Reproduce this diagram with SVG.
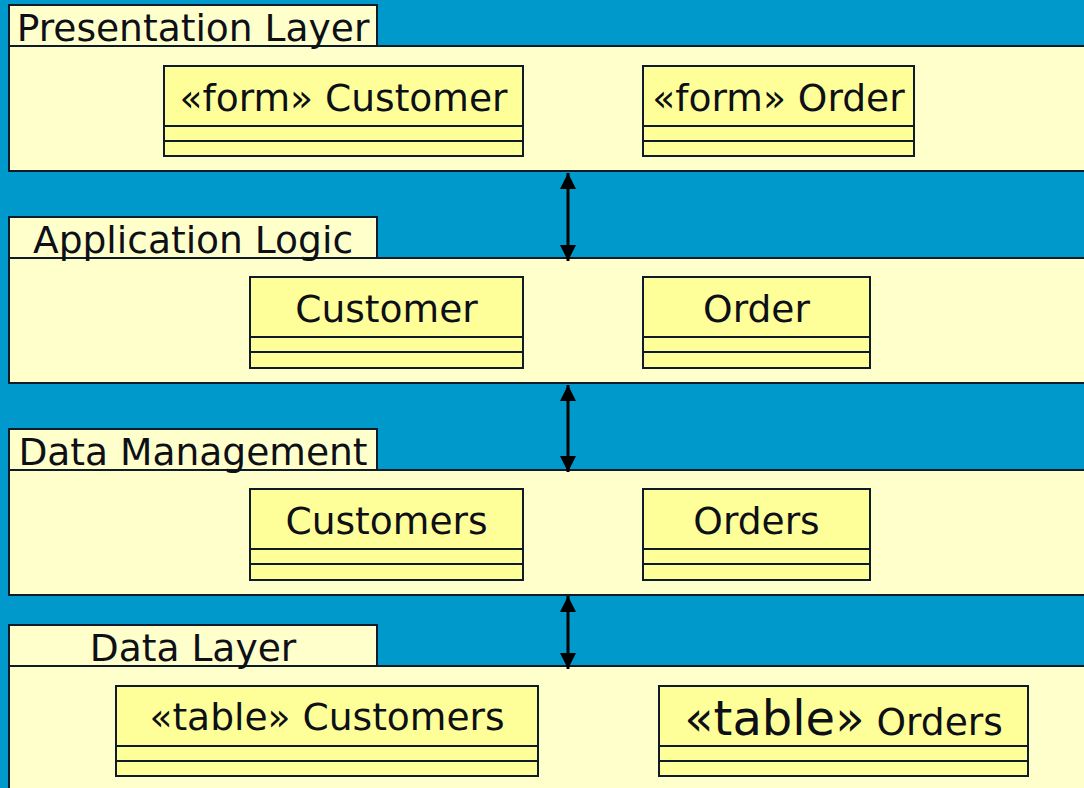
<svg xmlns="http://www.w3.org/2000/svg" width="1084" height="788" viewBox="0 0 1084 788">
<defs>
<style>
.bg{fill:#0099cc}
.panel{fill:#ffffcc;stroke:#0d1b2a;stroke-width:2}
.cls{fill:#ffff99;stroke:#0d1b2a;stroke-width:2}
.sep{stroke:#0d1b2a;stroke-width:2}
.t{font-family:"DejaVu Sans",sans-serif;font-size:37.6px;fill:#0d1016;text-anchor:middle}
.conn{stroke:#000;stroke-width:3;fill:none}
</style>
<marker id="ah" markerUnits="userSpaceOnUse" markerWidth="16" markerHeight="16" viewBox="0 0 16 16" refX="16" refY="8" orient="auto-start-reverse">
<path d="M0,0 L16,8 L0,16 z" fill="#000"/>
</marker>
</defs>
<rect class="bg" x="0" y="0" width="1084" height="788"/>

<g id="layer-presentation">
<rect class="panel" x="9" y="5" width="368" height="41"/>
<rect class="panel" x="9" y="46" width="1085" height="125"/>
<text class="t" x="193" y="41">Presentation Layer</text>
</g>
<g id="layer-application">
<rect class="panel" x="9" y="217" width="368" height="41"/>
<rect class="panel" x="9" y="258" width="1085" height="125"/>
<text class="t" x="193" y="253">Application Logic</text>
</g>
<g id="layer-datamgmt">
<rect class="panel" x="9" y="429" width="368" height="41"/>
<rect class="panel" x="9" y="470" width="1085" height="125"/>
<text class="t" x="193" y="465">Data Management</text>
</g>
<g id="layer-data">
<rect class="panel" x="9" y="625" width="368" height="41"/>
<rect class="panel" x="9" y="666" width="1085" height="130"/>
<text class="t" x="193" y="661">Data Layer</text>
</g>

<g id="form-customer">
<rect class="cls" x="164" y="66" width="359" height="90"/>
<line class="sep" x1="164" y1="126" x2="523" y2="126"/>
<line class="sep" x1="164" y1="141" x2="523" y2="141"/>
<text class="t" x="343.5" y="111">«form» Customer</text>
</g>
<g id="form-order">
<rect class="cls" x="643" y="66" width="271" height="90"/>
<line class="sep" x1="643" y1="126" x2="914" y2="126"/>
<line class="sep" x1="643" y1="141" x2="914" y2="141"/>
<text class="t" x="778.5" y="111">«form» Order</text>
</g>

<g id="customer">
<rect class="cls" x="250" y="277" width="273" height="91"/>
<line class="sep" x1="250" y1="337" x2="523" y2="337"/>
<line class="sep" x1="250" y1="352" x2="523" y2="352"/>
<text class="t" x="386.5" y="322">Customer</text>
</g>
<g id="order">
<rect class="cls" x="643" y="277" width="227" height="91"/>
<line class="sep" x1="643" y1="337" x2="870" y2="337"/>
<line class="sep" x1="643" y1="352" x2="870" y2="352"/>
<text class="t" x="756.5" y="322">Order</text>
</g>

<g id="customers">
<rect class="cls" x="250" y="489" width="273" height="91"/>
<line class="sep" x1="250" y1="549" x2="523" y2="549"/>
<line class="sep" x1="250" y1="564" x2="523" y2="564"/>
<text class="t" x="386.5" y="534">Customers</text>
</g>
<g id="orders">
<rect class="cls" x="643" y="489" width="227" height="91"/>
<line class="sep" x1="643" y1="549" x2="870" y2="549"/>
<line class="sep" x1="643" y1="564" x2="870" y2="564"/>
<text class="t" x="756.5" y="534">Orders</text>
</g>

<g id="table-customers">
<rect class="cls" x="116" y="686" width="422" height="90"/>
<line class="sep" x1="116" y1="746" x2="538" y2="746"/>
<line class="sep" x1="116" y1="761" x2="538" y2="761"/>
<text class="t" x="327" y="730">«table» Customers</text>
</g>
<g id="table-orders">
<rect class="cls" x="659" y="686" width="369" height="90"/>
<line class="sep" x1="659" y1="746" x2="1028" y2="746"/>
<line class="sep" x1="659" y1="761" x2="1028" y2="761"/>
<text class="t" x="843.5" y="735"><tspan font-size="48px">«table»</tspan> Orders</text>
</g>

<g id="connectors">
<line class="conn" x1="568" y1="173" x2="568" y2="261" marker-start="url(#ah)" marker-end="url(#ah)"/>
<line class="conn" x1="568" y1="385" x2="568" y2="472" marker-start="url(#ah)" marker-end="url(#ah)"/>
<line class="conn" x1="568" y1="596" x2="568" y2="669" marker-start="url(#ah)" marker-end="url(#ah)"/>
</g>
</svg>
